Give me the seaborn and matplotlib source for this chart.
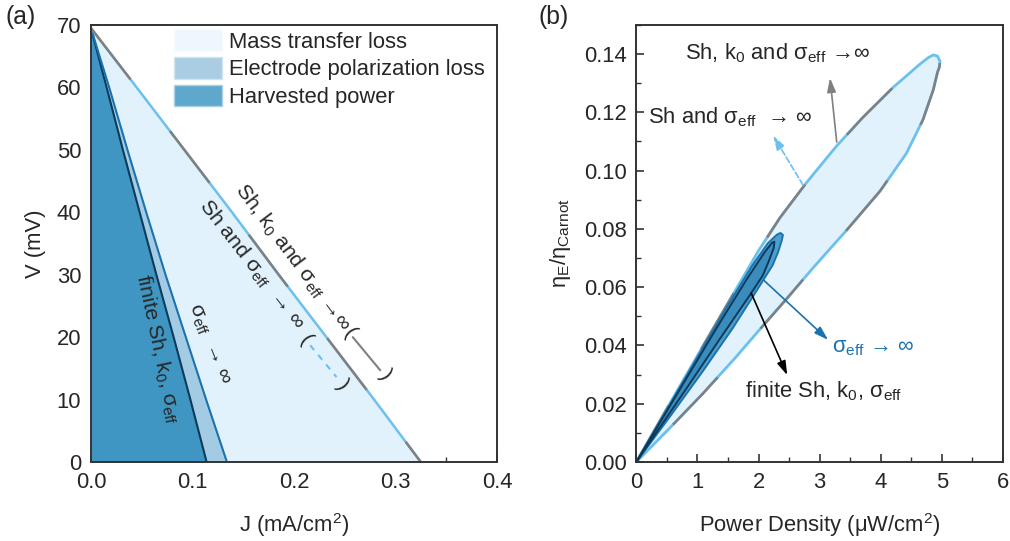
import numpy as np
import pandas as pd
import seaborn as sns
import matplotlib.pyplot as plt
from matplotlib.patches import Patch
from matplotlib.ticker import MultipleLocator

# ---- panel (a): J-V curves ----
V_mV = [69.5, 60, 50, 40, 30, 20, 10, 0]
J_finite = [0, 0.0155, 0.0315, 0.048, 0.0645, 0.0815, 0.098, 0.114]
J_sigma = [0, 0.018, 0.036, 0.0545, 0.0735, 0.0935, 0.1135, 0.134]
J_ideal = [0, 0.045, 0.092, 0.139, 0.185, 0.232, 0.279, 0.325]

legend_labels = ["Mass transfer loss", "Electrode polarization loss", "Harvested power"]

# ---- panel (b): efficiency vs power density loops ----
P_ideal = [0, 0.5, 1.0, 1.5, 2.0, 2.35, 2.79, 3.28, 3.71, 4.20, 4.64, 4.78, 4.86, 4.93, 4.97,
           4.96, 4.93, 4.86, 4.69, 4.42, 3.99, 3.44, 2.90, 2.46, 2.0, 1.63, 1.09, 0.54, 0]
eta_ideal = [0, 0.0183, 0.0365, 0.0545, 0.0725, 0.0838, 0.0960, 0.1085, 0.1183, 0.1285, 0.1365,
             0.1388, 0.1397, 0.1393, 0.1375, 0.1355, 0.1338, 0.1277, 0.1174, 0.1059, 0.0930,
             0.0795, 0.0668, 0.0560, 0.0450, 0.0360, 0.0235, 0.0115, 0]

P_sigma = [0, 0.5, 1.0, 1.5, 1.9, 2.15, 2.30, 2.36, 2.40, 2.38, 2.32, 2.23, 1.96, 1.58, 1.09, 0.54, 0]
eta_sigma = [0, 0.0180, 0.0360, 0.0538, 0.0675, 0.0750, 0.0780, 0.0786, 0.0779, 0.0760, 0.0720,
             0.0675, 0.0585, 0.0460, 0.0312, 0.0153, 0]

P_finite = [0, 0.4, 0.8, 1.3, 1.8, 2.1, 2.22, 2.26, 2.25, 2.17, 2.07, 1.85, 1.36, 0.82, 0.4, 0]
eta_finite = [0, 0.0140, 0.0280, 0.0455, 0.0625, 0.0720, 0.0752, 0.0756, 0.0735, 0.0690, 0.0640,
              0.0570, 0.0420, 0.0252, 0.0123, 0]

c_light = "#e1f2fc"
c_mid = "#a3cbe3"
c_dark = "#3f96c2"
c_edge_dark = "#0c3a5a"
c_edge_mid = "#1b72ae"
c_lightblue = "#6cc0ee"
c_gray = "#808080"

sns.set_theme(style="ticks")
plt.rcParams['font.family'] = ['Liberation Sans', 'DejaVu Sans']
plt.rcParams['mathtext.fontset'] = 'custom'
plt.rcParams['mathtext.rm'] = 'Liberation Sans'
plt.rcParams['mathtext.it'] = 'Liberation Sans:italic'
plt.rcParams['mathtext.default'] = 'regular'

fs = 15.8
fig = plt.figure(figsize=(10.1, 5.41), dpi=100)
ax1 = fig.add_axes([0.090, 0.146, 0.402, 0.808])
ax2 = fig.add_axes([0.630, 0.146, 0.363, 0.808])

# panel (a)
dfa = pd.DataFrame({"V": V_mV, "finite": J_finite, "sigma": J_sigma, "ideal": J_ideal})
ax1.fill_betweenx(dfa["V"], 0, dfa["finite"], color=c_dark, lw=0)
ax1.fill_betweenx(dfa["V"], dfa["finite"], dfa["sigma"], color=c_mid, lw=0)
ax1.fill_betweenx(dfa["V"], dfa["sigma"], dfa["ideal"], color=c_light, lw=0)
line_kw = dict(sort=False, estimator=None)
sns.lineplot(data=dfa, x="finite", y="V", color=c_edge_dark, lw=1.5, ax=ax1, **line_kw)
sns.lineplot(data=dfa, x="sigma", y="V", color=c_edge_mid, lw=1.5, ax=ax1, **line_kw)
sns.lineplot(data=dfa, x="ideal", y="V", color=c_lightblue, lw=1.8, ax=ax1, **line_kw)
ax1.plot(dfa["ideal"], dfa["V"], color=c_gray, lw=1.8, dashes=(26, 26))

handles = [Patch(facecolor="#eef7fd", edgecolor="#f6fbfe", lw=1),
           Patch(facecolor="#aacde3", edgecolor="#d0e5f1", lw=1),
           Patch(facecolor="#5ea8cc", edgecolor="#a9d0e4", lw=1)]
ax1.legend(handles, legend_labels, loc="upper left", bbox_to_anchor=(0.204, 0.99),
           frameon=False, fontsize=fs, handlelength=2.2, handleheight=1.15,
           handletextpad=0.3, labelspacing=0.2, borderpad=0, borderaxespad=0)

rot_kw = dict(ha="center", va="center", rotation_mode="anchor", fontsize=fs - 0.5)
ax1.text(0.199, 32.8, "Sh, k$_0$ and σ$_{eff}$ →∞", rotation=-53, **rot_kw)
ax1.text(0.158, 31.6, "Sh and σ$_{eff}$  → ∞", rotation=-52, **rot_kw)
ax1.text(0.116, 18.9, "σ$_{eff}$  → ∞", rotation=-68, **rot_kw)
ax1.text(0.066, 18.1, "finite Sh, k$_0$, σ$_{eff}$", rotation=-78, **rot_kw)
ax1.text(0.255, 20.7, "(", rotation=-52, **rot_kw)
ax1.plot([0.258, 0.285], [20.0, 14.7], color=c_gray, lw=1.5)
ax1.text(0.290, 13.9, ")", rotation=-52, **rot_kw)
ax1.text(0.211, 19.5, "(", rotation=-52, **rot_kw)
ax1.plot([0.216, 0.242], [18.7, 13.6], color=c_lightblue, lw=1.5, ls=(0, (3, 3)))
ax1.text(0.248, 12.3, ")", rotation=-52, **rot_kw)

ax1.set_xlim(0, 0.4)
ax1.set_ylim(0, 70)
ax1.xaxis.set_major_locator(MultipleLocator(0.1))
ax1.xaxis.set_minor_locator(MultipleLocator(0.05))
ax1.yaxis.set_major_locator(MultipleLocator(10))
ax1.yaxis.set_minor_locator(MultipleLocator(5))
ax1.set_xticklabels([f"{v:.1f}" for v in ax1.get_xticks()])
ax1.set_xlabel("J (mA/cm$^2$)", fontsize=fs, labelpad=13)
ax1.set_ylabel("V (mV)", fontsize=fs, labelpad=8)

# panel (b)
ax2.fill(P_ideal, eta_ideal, color=c_light, lw=0)
ax2.fill(P_sigma, eta_sigma, color="#4d9fcb", lw=0)
ax2.fill(P_finite, eta_finite, color="#3a8cbd", lw=0)
dfi = pd.DataFrame({"P": P_ideal, "eta": eta_ideal})
dfs = pd.DataFrame({"P": P_sigma, "eta": eta_sigma})
dff = pd.DataFrame({"P": P_finite, "eta": eta_finite})
sns.lineplot(data=dfi, x="P", y="eta", color=c_lightblue, lw=2.0, ax=ax2, **line_kw)
ax2.plot(P_ideal, eta_ideal, color=c_gray, lw=1.8, dashes=(26, 26))
sns.lineplot(data=dfs, x="P", y="eta", color=c_edge_mid, lw=1.4, ax=ax2, **line_kw)
sns.lineplot(data=dff, x="P", y="eta", color=c_edge_dark, lw=1.4, ax=ax2, **line_kw)

def arrow(ax, start, end, color, ls="-"):
    ax.annotate("", xy=end, xytext=start,
                arrowprops=dict(arrowstyle="-|>,head_length=0.7,head_width=0.22",
                                color=color, lw=1.2, ls=ls, shrinkA=0, shrinkB=0))

arrow(ax2, (3.28, 0.1098), (3.17, 0.1318), c_gray)
arrow(ax2, (2.73, 0.095), (2.24, 0.112), c_lightblue, ls="--")
arrow(ax2, (2.08, 0.0625), (3.14, 0.0419), c_edge_mid)
arrow(ax2, (1.88, 0.058), (2.47, 0.0298), "black")

ax2.text(0.80, 0.138, "Sh, k$_0$ and σ$_{eff}$ →∞", fontsize=fs, va="baseline")
ax2.text(0.196, 0.1163, "Sh and σ$_{eff}$  → ∞", fontsize=fs, va="baseline")
ax2.text(3.20, 0.0377, "σ$_{eff}$ → ∞", fontsize=fs, va="baseline", color=c_edge_mid)
ax2.text(1.78, 0.0223, "finite Sh, k$_0$, σ$_{eff}$", fontsize=fs, va="baseline")

ax2.set_xlim(0, 6)
ax2.set_ylim(0, 0.15)
ax2.xaxis.set_major_locator(MultipleLocator(1))
ax2.xaxis.set_minor_locator(MultipleLocator(0.5))
ax2.yaxis.set_minor_locator(MultipleLocator(0.01))
ax2.set_yticks(np.arange(0, 0.141, 0.02))
ax2.set_yticklabels([f"{v:.2f}" for v in np.arange(0, 0.141, 0.02)])
ax2.set_xlabel("Power Density (μW/cm$^2$)", fontsize=fs, labelpad=13)
ax2.set_ylabel("η$_E$/η$_{Carnot}$", fontsize=fs, labelpad=8)

for ax in (ax1, ax2):
    ax.tick_params(which="major", direction="in", length=6, width=1.2, labelsize=fs,
                   color="#333333", pad=7)
    ax.tick_params(which="minor", direction="in", length=3.5, width=1.0, color="#333333")
    for sp in ax.spines.values():
        sp.set_color("#333333")
        sp.set_linewidth(1.4)

fig.text(0.005, 0.968, "(a)", fontsize=fs + 2, va="center")
fig.text(0.533, 0.968, "(b)", fontsize=fs + 2, va="center")

fig.savefig("out.png", dpi=100)
